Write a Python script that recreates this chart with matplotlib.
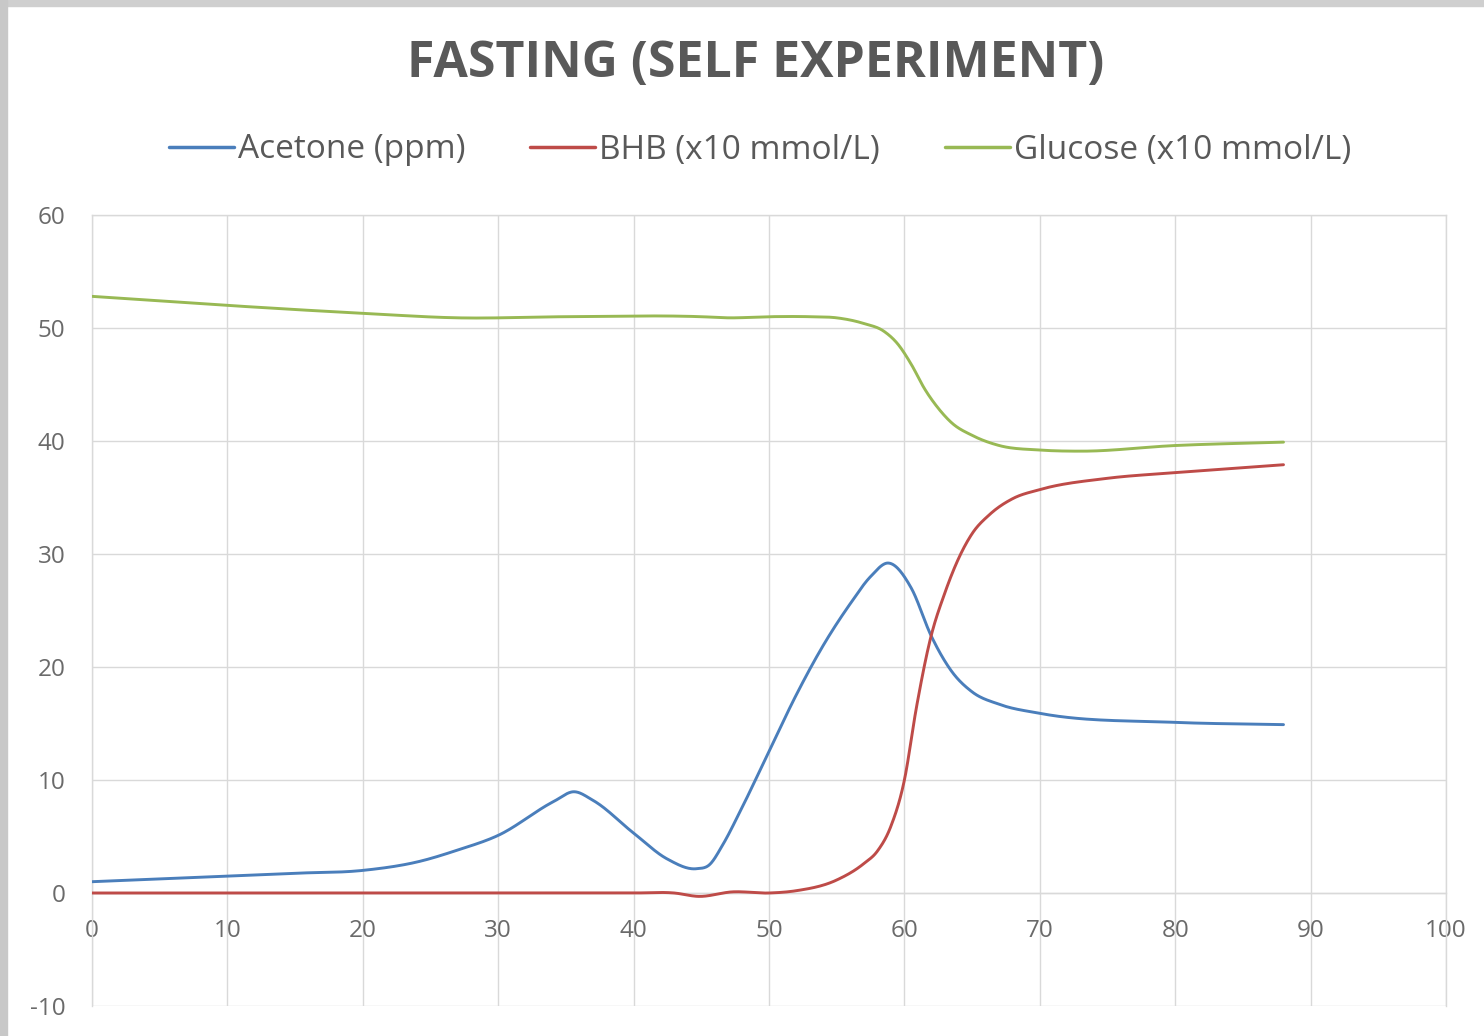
import numpy as np
import matplotlib
matplotlib.use("Agg")
import matplotlib.pyplot as plt
from matplotlib.patches import Rectangle

plt.rcParams["axes.unicode_minus"] = False

# ---- data ----
acetone_x = [0, 10, 15, 20, 24.2, 27, 30, 34.1, 35.6, 37, 40, 42.5, 44.65, 45.6, 46.6, 47.9,
             49.95, 52, 54, 56, 57.5, 58.8, 60.5, 62, 63.5, 65, 67, 70, 80, 88]
acetone_y = [1.0, 1.5, 1.75, 2.0, 2.8, 3.8, 5.1, 8.1, 8.96, 8.2, 5.3, 3.0, 2.15, 2.5, 4.3, 7.3,
             12.4, 17.5, 21.9, 25.6, 28.0, 29.2, 27.0, 22.7, 19.6, 17.8, 16.7, 15.9, 15.1, 14.9]

bhb_x = [0, 20, 40, 43, 44.8, 47.3, 50, 52, 55, 57, 58, 59, 60, 60.9, 61.9, 63, 64, 65, 66.3,
         68, 70, 75, 80, 88]
bhb_y = [0, 0, 0, 0, -0.3, 0.1, 0.0, 0.2, 1.15, 2.6, 3.7, 5.9, 10.0, 16.5, 22.4, 26.6, 29.6, 31.8,
         33.5, 34.9, 35.7, 36.7, 37.2, 37.9]

glucose_x = [0, 10, 20, 27, 35, 45, 47, 50, 53, 55, 57, 58.5, 59.5, 60.5, 61.5, 62.5, 63.5, 65,
             67, 70, 73, 80, 88]
glucose_y = [52.8, 52.0, 51.3, 50.9, 51.0, 51.0, 50.9, 51.0, 51.0, 50.9, 50.4, 49.7, 48.6, 46.8,
             44.6, 42.9, 41.6, 40.5, 39.6, 39.2, 39.1, 39.6, 39.9]

series_names = ["Acetone (ppm)", "BHB (x10 mmol/L)", "Glucose (x10 mmol/L)"]
series_colors = ["#4a7ebb", "#be4b48", "#98b954"]
title = "FASTING (SELF EXPERIMENT)"
x_ticks = list(range(0, 101, 10))
y_ticks = list(range(-10, 61, 10))


def smooth_line(x, y, n=30):
    """Smoothed line through the data points (cubic Hermite, finite-difference tangents)."""
    x = np.asarray(x, float)
    y = np.asarray(y, float)
    h = np.diff(x)
    d = np.diff(y) / h
    m = np.empty_like(y)
    m[0], m[-1] = d[0], d[-1]
    m[1:-1] = (d[:-1] * h[1:] + d[1:] * h[:-1]) / (h[:-1] + h[1:])
    xs, ys = [x[:1]], [y[:1]]
    t = np.linspace(0, 1, n)[1:]
    for i in range(len(x) - 1):
        h00 = 2 * t ** 3 - 3 * t ** 2 + 1
        h10 = t ** 3 - 2 * t ** 2 + t
        h01 = -2 * t ** 3 + 3 * t ** 2
        h11 = t ** 3 - t ** 2
        xs.append(x[i] + t * h[i])
        ys.append(h00 * y[i] + h10 * h[i] * m[i] + h01 * y[i + 1] + h11 * h[i] * m[i + 1])
    return np.concatenate(xs), np.concatenate(ys)


fig = plt.figure(figsize=(14.84, 10.36), dpi=100)
fig.patch.set_facecolor("white")
# grey frame at top and left edge
fig.patches.append(Rectangle((0, 1 - 6 / 1036), 1, 6 / 1036, transform=fig.transFigure,
                             color="#cfcfcf", zorder=0))
fig.patches.append(Rectangle((0, 0), 7 / 1484, 1, transform=fig.transFigure,
                             color="#c8c8c8", zorder=0))

ax = fig.add_axes([92 / 1484, 30 / 1036, (1446 - 92) / 1484, (1006 - 215) / 1036])

for (xs, ys), name, col in zip([(acetone_x, acetone_y), (bhb_x, bhb_y), (glucose_x, glucose_y)],
                               series_names, series_colors):
    sx, sy = smooth_line(xs, ys)
    ax.plot(sx, sy, color=col, lw=2.1, label=name, solid_capstyle="round", zorder=3)

ax.set_xlim(0, 100)
ax.set_ylim(-10, 60)
ax.set_xticks(x_ticks)
ax.set_yticks(y_ticks)
ax.grid(True, color="#d9d9d9", lw=1.0, zorder=0)
ax.set_axisbelow(True)
for s in ["left", "right", "top"]:
    ax.spines[s].set_color("#d9d9d9")
    ax.spines[s].set_linewidth(1.0)
ax.spines["bottom"].set_position(("data", 0))
ax.spines["bottom"].set_color("#d9d9d9")
ax.spines["bottom"].set_linewidth(1.0)

ax.tick_params(axis="both", length=0, labelsize=17.5, labelcolor="#6a6a6a")
ax.tick_params(axis="x", pad=19)
ax.tick_params(axis="y", pad=19)
for lab in ax.get_xticklabels() + ax.get_yticklabels():
    lab.set_family("Open Sans")

fig.text(0.509, 1 - 64 / 1036, title, ha="center", va="center", fontsize=36,
         fontweight="bold", color="#595959", family="Open Sans")

leg = fig.legend(loc="center", bbox_to_anchor=(0.512, 1 - 150 / 1036), ncol=3, frameon=False,
                 prop={"family": "Open Sans", "size": 24}, handlelength=1.95,
                 handletextpad=0.12, columnspacing=1.95)
for line in leg.get_lines():
    line.set_linewidth(2.5)
for txt in leg.get_texts():
    txt.set_color("#595959")

fig.savefig("out.png", dpi=100, facecolor="white")
